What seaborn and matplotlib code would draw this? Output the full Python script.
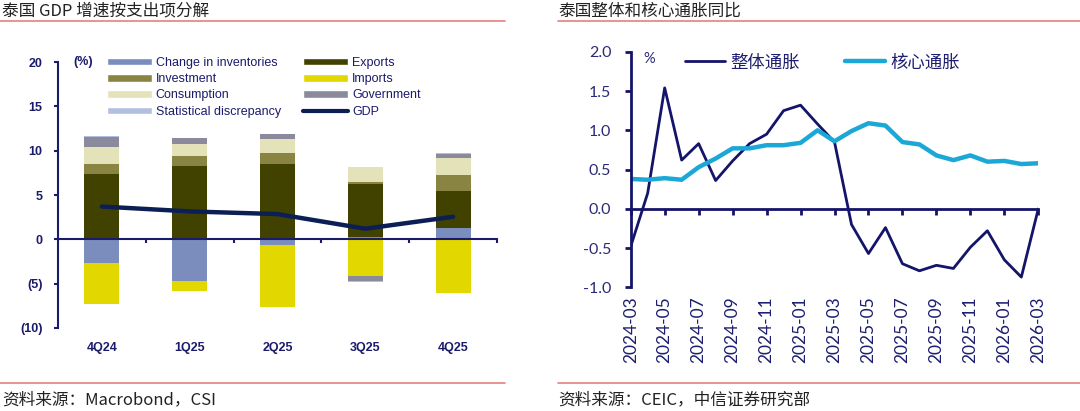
"""
Thailand GDP growth by expenditure + headline / core inflation
"""

import numpy as np
import pandas as pd
import matplotlib.pyplot as plt
import seaborn as sns
from matplotlib.lines import Line2D
from matplotlib.patches import Patch

sns.set_theme(style="white")
plt.rcParams["font.family"] = ["Liberation Sans", "Noto Sans CJK SC", "DejaVu Sans"]

# ── Data: GDP contributions (pp) ─────────────────────────────────────────────
quarters = ["4Q24", "1Q25", "2Q25", "3Q25", "4Q25"]
inventories = [-2.7, -4.7, -0.6, 0.3, 1.3]
exports = [7.4, 8.3, 8.55, 5.9, 4.1]
investment = [1.1, 1.05, 1.2, 0.3, 1.9]
consumption = [1.9, 1.35, 1.6, 1.65, 1.9]
imports = [-4.6, -1.1, -7.0, -4.15, -6.0]
government = [1.15, 0.75, 0.55, -0.5, 0.45]
stat_disc = [0.15, 0.0, 0.0, -0.2, 0.05]
gdp = [3.7, 3.15, 2.85, 1.2, 2.55]

# ── Data: inflation (% yoy) ──────────────────────────────────────────────────
months = pd.date_range("2024-03-01", "2026-03-01", freq="MS")
headline = [-0.48, 0.2, 1.54, 0.62, 0.83, 0.36, 0.61, 0.83, 0.95, 1.25, 1.32, 1.08, 0.85,
            -0.2, -0.57, -0.24, -0.70, -0.79, -0.72, -0.76, -0.49, -0.28, -0.65, -0.87, 0.0]
core = [0.38, 0.37, 0.39, 0.37, 0.53, 0.64, 0.77, 0.77, 0.81, 0.81, 0.84, 1.0, 0.86,
        0.99, 1.09, 1.06, 0.85, 0.82, 0.68, 0.62, 0.68, 0.60, 0.61, 0.57, 0.58]

navy = "#1b1b6b"
fig = plt.figure(figsize=(10.8, 4.11), dpi=100)

# ── Left: stacked bars ───────────────────────────────────────────────────────
ax1 = fig.add_axes([0.0537, 0.202, 0.4065, 0.647])
series = [
    ("Change in inventories", inventories, "#7b8dbd"),
    ("Exports", exports, "#424200"),
    ("Investment", investment, "#8a8442"),
    ("Consumption", consumption, "#e4e2b8"),
    ("Imports", imports, "#e3d700"),
    ("Government", government, "#8a8a9c"),
    ("Statistical discrepancy", stat_disc, "#b3bfe0"),
]
x = np.arange(len(quarters))
pos = np.zeros(len(quarters))
neg = np.zeros(len(quarters))
for name, vals, color in series:
    vals = np.array(vals)
    bottom = np.where(vals >= 0, pos, neg)
    ax1.bar(x, vals, bottom=bottom, width=0.4, color=color, linewidth=0)
    pos = pos + np.clip(vals, 0, None)
    neg = neg + np.clip(vals, None, 0)

gdp_df = pd.DataFrame({"x": x, "gdp": gdp})
sns.lineplot(data=gdp_df, x="x", y="gdp", ax=ax1, color="#0b1f55", linewidth=3.2)

ax1.set_xlim(-0.5, 4.5)
ax1.set_ylim(-10, 20)
ax1.set_yticks([-10, -5, 0, 5, 10, 15, 20])
ax1.set_yticklabels(["(10)", "(5)", "0", "5", "10", "15", "20"])
for s in ["top", "right"]:
    ax1.spines[s].set_visible(False)
ax1.spines["left"].set_color(navy)
ax1.spines["left"].set_linewidth(1.5)
ax1.spines["bottom"].set_position(("data", 0))
ax1.spines["bottom"].set_color(navy)
ax1.spines["bottom"].set_linewidth(1.5)
ax1.set_xticks(x)
ax1.set_xticklabels(quarters)
ax1.set_xticks(list(x[:-1] + 0.5) + [4.5], minor=True)
ax1.tick_params(axis="x", which="major", length=0, pad=74, labelsize=9,
                labelcolor=navy)
ax1.tick_params(axis="x", which="minor", bottom=True, length=3, width=1.5,
                direction="out", color=navy)
ax1.tick_params(axis="y", left=True, length=3, width=1.5, color=navy,
                labelsize=9, labelcolor=navy, pad=8)
for lbl in ax1.get_xticklabels() + ax1.get_yticklabels():
    lbl.set_fontweight("bold")
ax1.set_xlabel("")
ax1.set_ylabel("")
ax1.text(0.035, 1.0, "(%)", transform=ax1.transAxes, ha="left", va="center",
         fontsize=9, color=navy, fontweight="bold")

handles = [Patch(facecolor=c, label=n) for n, _, c in series]
handles.append(Line2D([0], [0], color="#0b1f55", linewidth=3, label="GDP"))
order = [0, 2, 3, 6, 1, 4, 5, 7]
leg1 = ax1.legend([handles[i] for i in order], [handles[i].get_label() for i in order],
                  ncol=2, loc="upper left", bbox_to_anchor=(0.1, 1.038), frameon=False,
                  fontsize=9, handlelength=3.6, handleheight=0.55, handletextpad=0.3,
                  labelspacing=0.34, columnspacing=1.8, borderaxespad=0)
for t in leg1.get_texts():
    t.set_color(navy)

# ── Right: inflation lines ───────────────────────────────────────────────────
ax2 = fig.add_axes([0.584, 0.301, 0.3774, 0.573])
idx = np.arange(len(months))
infl = pd.DataFrame({"idx": idx, "整体通胀": headline, "核心通胀": core})
sns.lineplot(data=infl, x="idx", y="整体通胀", ax=ax2, color="#14146a",
             linewidth=2.0, label="整体通胀")
sns.lineplot(data=infl, x="idx", y="核心通胀", ax=ax2, color="#1ba8d6",
             linewidth=3.2, label="核心通胀")
ax2.set_xlim(0, 24)
ax2.set_ylim(-1, 2)
ax2.set_yticks([-1.0, -0.5, 0.0, 0.5, 1.0, 1.5, 2.0])
ax2.set_yticklabels([f"{v:.1f}" for v in [-1.0, -0.5, 0.0, 0.5, 1.0, 1.5, 2.0]])
for s in ["top", "right"]:
    ax2.spines[s].set_visible(False)
ax2.spines["left"].set_color("#14146a")
ax2.spines["left"].set_linewidth(2)
ax2.spines["bottom"].set_position(("data", 0))
ax2.spines["bottom"].set_color("#14146a")
ax2.spines["bottom"].set_linewidth(2)
tick_idx = idx[::2]
ax2.set_xticks(tick_idx)
ax2.set_xticklabels([months[i].strftime("%Y-%m") for i in tick_idx], rotation=90,
                    fontfamily="Lato")
ax2.tick_params(axis="x", bottom=True, length=4, width=2, color="#14146a",
                direction="out", pad=59, labelsize=12.5, labelcolor="#1e1e70")
ax2.tick_params(axis="y", left=True, length=4, width=2, color="#14146a",
                labelsize=11.5, labelcolor="#2a2a78", pad=10)
for lbl in ax2.get_yticklabels():
    lbl.set_fontfamily("Lato")
ax2.set_xlabel("")
ax2.set_ylabel("")
ax2.text(0.03, 0.97, "%", transform=ax2.transAxes, ha="left", va="center",
         fontsize=10.5, color="#2a2a78", fontfamily="Lato")
leg2 = ax2.legend(loc="upper left", bbox_to_anchor=(0.095, 1.06), ncol=2, frameon=False,
                  handlelength=2.3, handletextpad=0.3, columnspacing=2.6,
                  prop={"family": "Noto Sans CJK SC", "size": 12.5})
for t in leg2.get_texts():
    t.set_color("#1e1e70")

# ── Headers and footers ──────────────────────────────────────────────────────
cjk = ["Noto Sans CJK SC", "DejaVu Sans"]
red = "#e48080"
fig.text(0.002, 0.974, "泰国 GDP 增速按支出项分解", fontsize=12, family=cjk,
         ha="left", va="center", color="#222222")
fig.text(0.517, 0.974, "泰国整体和核心通胀同比", fontsize=12, family=cjk,
         ha="left", va="center", color="#222222")
fig.text(0.002, 0.027, "资料来源：Macrobond，CSI", fontsize=12, family=cjk,
         ha="left", va="center", color="#222222")
fig.text(0.517, 0.027, "资料来源：CEIC，中信证券研究部", fontsize=12, family=cjk,
         ha="left", va="center", color="#222222")
for x0, x1 in [(0.0, 0.468), (0.517, 1.0)]:
    fig.add_artist(Line2D([x0, x1], [0.949, 0.949], color=red, linewidth=1.2))
    fig.add_artist(Line2D([x0, x1], [0.068, 0.068], color=red, linewidth=1.2))

plt.savefig("out.png", dpi=100)
